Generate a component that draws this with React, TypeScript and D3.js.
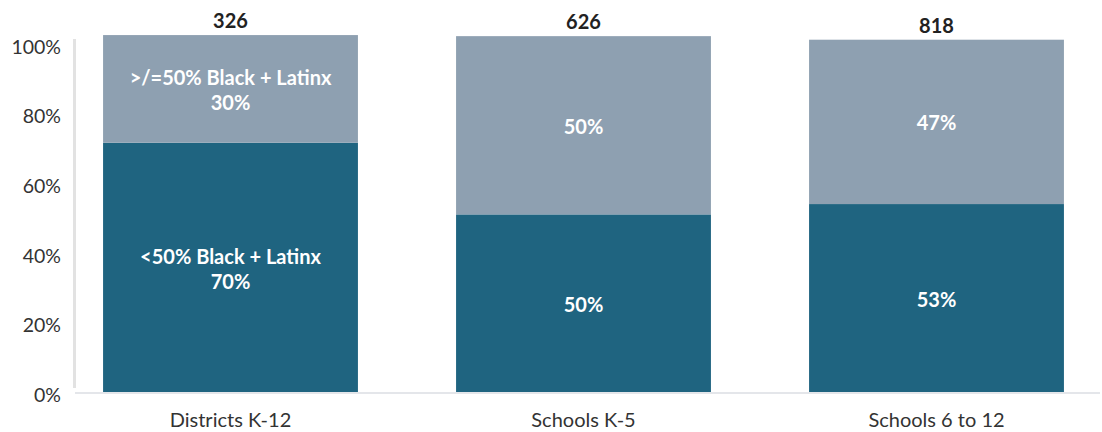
import React from "react";
import * as d3 from "d3";

const categories = ["Districts K-12", "Schools K-5", "Schools 6 to 12"];
const totals = ["326", "626", "818"];
const below50 = [70.2, 50.1, 53.0];
const above50 = [30.2, 50.0, 46.1];
const below50Labels = ["<50% Black + Latinx\n70%", "50%", "53%"];
const above50Labels = [">/=50% Black + Latinx\n30%", "50%", "47%"];
const yTicks = [0, 20, 40, 60, 80, 100];

const W = 1102;
const H = 432;
const DARK = "#1f6480";
const LIGHT = "#8ea0b1";
const FONT = "Lato, 'Noto Sans', sans-serif";

export default function App() {
  const x = d3.scaleBand<string>().domain(categories).range([54, 1113]).paddingInner(0.278).paddingOuter(0.139);
  const y = d3.scaleLinear().domain([0, 100]).range([393, 36.5]);
  const yLab = d3.scaleLinear().domain([0, 100]).range([395, 47]);
  const bw = x.bandwidth();

  const lines = (txt: string, cx: number, cy: number, key: string) => {
    const parts = txt.split("\n");
    const lh = 25;
    const start = cy + 1.5 - ((parts.length - 1) * lh) / 2;
    return parts.map((p, i) => (
      <text key={key + i} x={cx} y={start + i * lh} dy="0.35em" textAnchor="middle" fill="#fff" fontWeight={700} fontSize={20} fontFamily={FONT}>
        {p}
      </text>
    ));
  };

  return (
    <svg width={W} height={H} style={{ position: "absolute", left: 0, top: 0 }}>
      <rect width={W} height={H} fill="#fff" />
      {yTicks.map((t) => (
        <text key={t} x={61} y={yLab(t)} dy="0.35em" textAnchor="end" fontSize={19.5} fill="#333" fontFamily={FONT}>
          {t}%
        </text>
      ))}
      <line x1={74.5} x2={74.5} y1={39} y2={388} stroke="#e2e2e2" strokeWidth={3} />
      {categories.map((c, i) => {
        const x0 = x(c)!;
        const cx = x0 + bw / 2;
        const yb = y(below50[i]);
        const yt = y(below50[i] + above50[i]);
        return (
          <g key={c}>
            <rect x={x0} y={yb} width={bw} height={y(0) - yb} fill={DARK} />
            <rect x={x0} y={yt} width={bw} height={yb - yt} fill={LIGHT} />
            {lines(below50Labels[i], cx, (yb + y(0)) / 2, "b" + i)}
            {lines(above50Labels[i], cx, (yt + yb) / 2, "a" + i)}
            <text x={cx} y={yt - 7} textAnchor="middle" fontWeight={700} fontSize={20} fill="#222" fontFamily={FONT}>
              {totals[i]}
            </text>
            <text x={cx} y={427} textAnchor="middle" fontSize={20} fill="#333" fontFamily={FONT}>
              {c}
            </text>
          </g>
        );
      })}
      <line x1={75} x2={1100} y1={393} y2={393} stroke="#e4e6ea" strokeWidth={2} />
    </svg>
  );
}
